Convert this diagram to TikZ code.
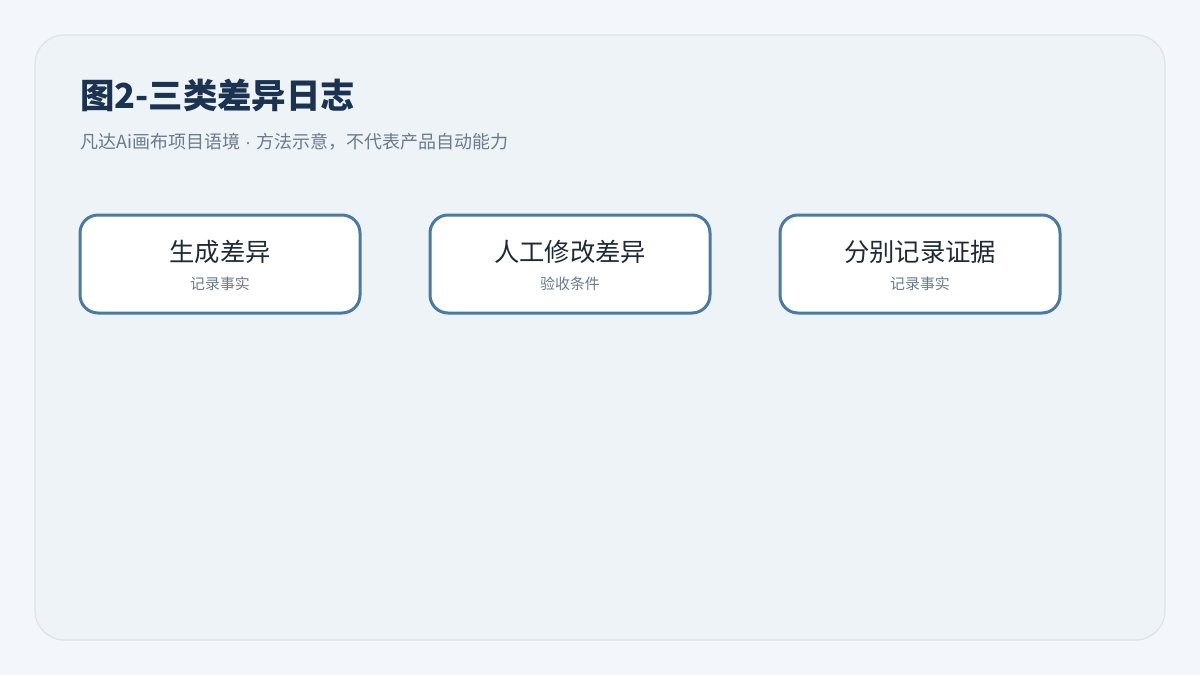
\documentclass[tikz,border=0pt]{standalone}
\usepackage{fontspec}
\setmainfont{Noto Sans CJK SC}
\newfontfamily\latinf{Liberation Sans}
\definecolor{pagebg}{HTML}{F3F6FA}
\definecolor{panelbg}{HTML}{EEF3F8}
\definecolor{panelline}{HTML}{DCE3EA}
\definecolor{titlecol}{HTML}{1B3350}
\definecolor{subcol}{HTML}{6B7A8C}
\definecolor{boxline}{HTML}{4A7A9F}
\definecolor{maincol}{HTML}{1F2A36}
\tikzset{
  cardbox/.style={draw=boxline, line width=2.25pt, fill=white, rounded corners=13.5pt,
    minimum width=210pt, minimum height=73.5pt, inner sep=0pt},
  cardmain/.style={font=\fontsize{19}{21}\selectfont, text=maincol, inner sep=0pt},
  cardsub/.style={font=\fontsize{11.2}{13}\selectfont, text=subcol, inner sep=0pt},
}
\begin{document}
\begin{tikzpicture}[x=0.75pt,y=-0.75pt]
\useasboundingbox (0,0) rectangle (1200,675);
\fill[pagebg] (0,0) rectangle (1200,675);
\draw[panelline, fill=panelbg, line width=0.9pt, rounded corners=22pt] (35,35) rectangle (1165,640);
\node[anchor=base west, inner sep=0pt, text=titlecol, font=\fontsize{25.8}{30}\selectfont\bfseries] (title) at (80,108) {图2-三类差异日志};
\node[anchor=base west, inner sep=0pt, text=subcol, font=\fontsize{13.5}{16}\selectfont] (subtitle) at (80,148) {凡达Ai画布项目语境{\latinf\ ·\ }方法示意，不代表产品自动能力};
\foreach \n/\x/\a/\b in {c1/220/生成差异/记录事实, c2/570/人工修改差异/验收条件, c3/920/分别记录证据/记录事实}{
  \node[cardbox] (\n) at (\x,264) {};
  \node[cardmain] (\n m) at (\x,252) {\a};
  \node[cardsub] (\n s) at (\x,284) {\b};
}
\end{tikzpicture}
\end{document}
